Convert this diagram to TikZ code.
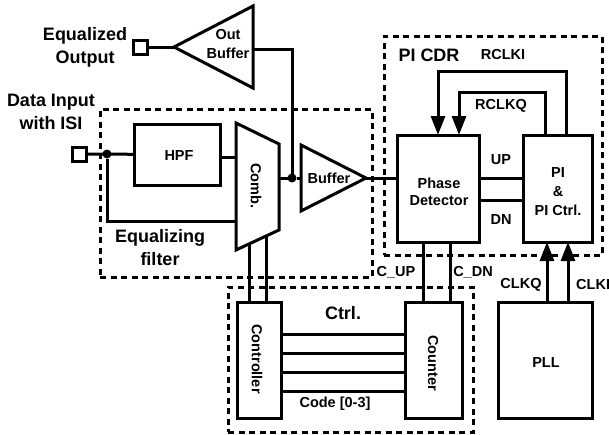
\documentclass[tikz,border=0pt]{standalone}
\usepackage{fontspec}
\setmainfont{Liberation Sans}
\usetikzlibrary{arrows.meta,shapes.geometric}
\tikzset{
  wire/.style={line width=3pt},
  blk/.style={draw, line width=3pt, outer sep=0pt, inner sep=0pt},
  amp/.style={draw, line width=3pt, outer sep=0pt, inner sep=0pt, isosceles triangle, isosceles triangle stretches, anchor=apex},
  pad/.style={blk, minimum size=14pt},
  dot/.style={fill, circle, inner sep=0pt, outer sep=0pt, minimum size=9pt},
  group/.style={draw, line width=3pt, dash pattern=on 6pt off 4.5pt},
  big/.style={font=\bfseries\fontsize{18}{20}\selectfont, align=center},
  txt/.style={font=\bfseries\fontsize{14.5}{16}\selectfont, align=center},
  head/.style={-{Triangle[length=19pt,width=14pt]}},
}
\begin{document}
\begin{tikzpicture}[x=1pt,y=-1pt]
\useasboundingbox (0,0) rectangle (609,434);
% dashed groups
\node[group, minimum width=272pt, minimum height=168pt] (eqf) at (236,193) {};
\node[group, minimum width=218pt, minimum height=219pt] (cdr) at (493,145.5) {};
\node[group, minimum width=245pt, minimum height=145pt] (ctl) at (350.5,359.5) {};

% blocks
\node[pad] (pin) at (79.5,154) {};
\node[pad] (pout) at (140,47) {};
\node[blk, minimum width=86pt, minimum height=61pt] (hpf) at (177,154.5) {};
\node[blk, minimum width=82pt, minimum height=107pt] (pd) at (438,188.5) {};
\node[blk, minimum width=69pt, minimum height=107pt] (pi) at (557.5,188.5) {};
\node[blk, minimum width=44pt, minimum height=116pt] (ctrlr) at (259,360) {};
\node[blk, minimum width=57pt, minimum height=116pt] (cnt) at (433.5,360) {};
\node[blk, minimum width=94pt, minimum height=116pt] (pll) at (545,360) {};
\node[amp, shape border rotate=180, minimum width=82pt, minimum height=79pt] (obuf) at (174,47) {};
\node[amp, minimum width=66pt, minimum height=65pt] (buf) at (366,178) {};

% comb
\coordinate (c1) at (236,123);
\coordinate (c2) at (279,144);
\coordinate (c3) at (279,230);
\coordinate (c4) at (236,250);
\path[draw,wire,line join=miter] (c1) -- (c2) -- (c3) -- (c4) -- cycle;

% junctions
\node[dot] (d1) at (107,154) {};
\node[dot] (d2) at (292,178) {};

% connectors
\path[draw,wire] (pin) -- (hpf);
\path[draw,wire] (hpf.east |- 0,157) -- (c1 |- 0,157);
\path[draw,wire] (d1) |- (c1 |- 0,221);
\path[draw,wire] (c2 |- d2) -- (d2) -- (buf.west |- d2);
\path[draw,wire] (obuf.apex) -- (pout);
\path[draw,wire] (obuf.east |- 0,49) -| (d2);
\path[draw,wire] (buf.apex) -- (pd.west |- buf.apex);
\path[draw,wire] (pd.east |- 0,178) -- (pi.west |- 0,178);
\path[draw,wire] (pd.east |- 0,200) -- (pi.west |- 0,200);
\path[draw,wire,head] ([xshift=8.5pt]pi.north) -- ++(0,-64) -| (pd.north);
\path[draw,wire,head] ([xshift=-12.5pt]pi.north) -- ++(0,-43) -| ([xshift=21pt]pd.north);
\path[draw,wire,head] ([xshift=2pt]pll.north) -- ([xshift=-10.5pt]pi.south);
\path[draw,wire,head] ([xshift=23pt]pll.north) -- ([xshift=10.5pt]pi.south);
\path[draw,wire] (249,244) -- (249,302);
\path[draw,wire] (266,236) -- (266,302);
\path[draw,wire] ([xshift=-15pt]pd.south) -- ([xshift=-10.5pt]cnt.north);
\path[draw,wire] ([xshift=12pt]pd.south) -- ([xshift=16.5pt]cnt.north);
\foreach \y in {334,353,372,391}
  \path[draw,wire] (ctrlr.east |- 0,\y) -- (cnt.west |- 0,\y);

% labels
\node[big] (t1) at (85,36) {Equalized};
\node[big] (t2) at (85,59) {Output};
\node[big] (t3) at (51,102) {Data Input};
\node[big] (t4) at (51,123) {with ISI};
\node[big] (t5) at (160,238) {Equalizing};
\node[big] (t6) at (160,259) {filter};
\node[big] (t7) at (429,55) {PI CDR};
\node[big] (t8) at (343,313) {Ctrl.};
\node[txt] (t9) at (228,35) {Out};
\node[txt] (t10) at (228,53) {Buffer};
\node[txt] (t11) at (179,156) {HPF};
\node[txt, rotate=-90] (t12) at (256,186) {Comb.};
\node[txt] (t13) at (329,178) {Buffer};
\node[txt] (t14) at (439,183) {Phase};
\node[txt] (t15) at (439,201) {Detector};
\node[txt] (t16) at (558,173) {PI};
\node[txt] (t17) at (558,192) {\&};
\node[txt] (t18) at (558,210) {PI Ctrl.};
\node[txt] (t19) at (503,55) {RCLKI};
\node[txt] (t20) at (501,106) {RCLKQ};
\node[txt] (t21) at (501,160) {UP};
\node[txt] (t22) at (501,220) {DN};
\node[txt] (t23) at (396,272) {C\_UP};
\node[txt] (t24) at (473,272) {C\_DN};
\node[txt] (t25) at (521,285) {CLKQ};
\node[txt, anchor=west, inner sep=0pt] (t26) at (576,285) {CLKI};
\node[txt] (t27) at (335,404) {Code [0-3]};
\node[txt, rotate=-90] (t28) at (257,359) {Controller};
\node[txt, rotate=-90] (t29) at (433,363) {Counter};
\node[txt] (t30) at (546,363) {PLL};
\end{tikzpicture}
\end{document}
